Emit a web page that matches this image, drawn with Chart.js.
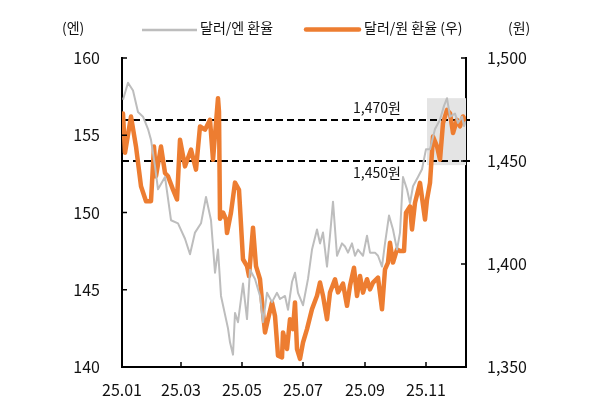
<!DOCTYPE html>
<html>
<head>
<meta charset="utf-8">
<script src="https://cdn.jsdelivr.net/npm/chart.js@4.4.1/dist/chart.umd.min.js"></script>
<style>
html,body{margin:0;padding:0;background:#fff;}
#wrap{width:591px;height:411px;position:relative;}
</style>
</head>
<body>
<div id="wrap"><canvas id="c" width="591" height="411"></canvas></div>
<script>
// ---- data ----
const yenDates = ["01.02","01.07","01.12","01.17","01.22","01.27","01.30","02.03","02.06","02.13","02.19","02.26","03.05","03.10","03.15","03.21","03.26","03.31","04.04","04.07","04.10","04.17","04.19","04.22","04.24","04.27","05.02","05.06","05.09","05.14","05.19","05.22","05.26","05.31","06.05","06.08","06.13","06.16","06.20","06.23","06.26","07.01","07.06","07.10","07.15","07.18","07.21","07.25","07.28","07.31","08.04","08.09","08.12","08.15","08.19","08.22","08.25","08.30","09.03","09.06","09.11","09.14","09.18","09.21","09.25","09.29","10.03","10.06","10.09","10.13","10.16","10.19","10.24","10.28","11.01","11.05","11.10","11.15","11.19","11.22","11.25","11.30","12.03","12.07","12.09","12.11"];
const yenValues = [157.3,158.4,157.9,156.5,156.2,155.4,154.7,153.0,151.5,152.3,149.5,149.3,148.3,147.3,148.7,149.3,151.0,149.5,146.1,147.6,144.6,142.5,141.6,140.8,143.5,142.9,145.4,143.1,146.3,145.7,144.6,142.9,144.8,144.2,144.8,144.4,144.6,143.7,145.5,146.1,144.8,144.0,145.7,147.6,148.9,148.0,148.7,146.5,148.5,150.7,147.2,148.0,147.8,147.4,148.0,147.2,147.6,147.2,148.5,147.4,147.4,147.2,146.5,148.0,149.8,148.9,147.6,148.7,152.3,151.5,150.6,151.7,152.3,152.8,154.1,154.1,155.4,156.0,156.9,157.4,156.2,156.4,155.8,156.2,155.6,155.9];

const wonDates = ["01.02","01.04","01.10","01.15","01.20","01.25","01.30","02.02","02.04","02.09","02.13","02.16","02.21","02.25","02.28","03.05","03.11","03.16","03.20","03.25","03.30","04.02","04.07","04.08","04.09","04.12","04.15","04.16","04.20","04.24","04.28","05.02","05.06","05.08","05.12","05.15","05.19","05.22","05.24","05.27","05.31","06.03","06.06","06.10","06.11","06.15","06.18","06.21","06.23","06.25","06.28","07.01","07.05","07.10","07.15","07.18","07.21","07.25","07.28","08.02","08.05","08.10","08.14","08.17","08.21","08.24","08.27","08.30","09.03","09.06","09.09","09.14","09.18","09.21","09.24","09.26","09.29","10.03","10.06","10.10","10.12","10.16","10.18","10.21","10.26","10.31","11.02","11.05","11.08","11.12","11.15","11.18","11.22","11.25","11.28","12.02","12.05","12.08","12.11"];
const wonValues = [1473,1454,1471.6,1457,1437.7,1430.5,1430.5,1457,1442.6,1457,1444.2,1442.6,1436.1,1431.3,1460.3,1447.4,1455.5,1445.8,1466.8,1465.2,1470,1450.6,1480.5,1474,1422,1425,1421.6,1415,1425,1439.5,1436,1402.3,1399,1394.2,1417.6,1399,1392.6,1376.5,1366.8,1373.2,1381.3,1374.8,1355.5,1354.7,1366.8,1358.7,1373.2,1368.4,1381.3,1358.7,1353.9,1361.9,1368.4,1378.1,1384.6,1391,1384.6,1373.2,1386.2,1392.6,1386.2,1390.5,1379.7,1389.4,1398.2,1384.5,1394.2,1386.1,1392.6,1387.7,1391,1393.4,1378,1397.4,1400.7,1410.3,1400.7,1407.1,1406.3,1406.3,1424.9,1428,1416.8,1429.7,1439.4,1421.6,1431.3,1439.4,1461.9,1457.1,1450.6,1468.4,1474.8,1473.2,1463.6,1470,1466.8,1471.6,1469.2];

const xTickDates = ["01.01","03.01","05.01","07.01","09.01","11.01"];
const xTickLabels = ["25.01","25.03","25.05","25.07","25.09","25.11"];
const xEndDate = "12.11";
const refLevels = [1470, 1450];
const refLabels = ["1,470원", "1,450원"];
const boxStartDate = "11.02", boxEndDate = "12.11", boxLow = 1448, boxHigh = 1480.5;

const seriesNames = ["달러/엔 환율", "달러/원 환율 (우)"];
const leftUnit = "(엔)", rightUnit = "(원)";

// ---- helpers ----
const cum = [0,31,59,90,120,151,181,212,243,273,304,334];
const doy = s => { const [m,d] = s.split('.').map(Number); return cum[m-1] + d - 1; };
const toPts = (dates, vals) => dates.map((d,i) => ({x: doy(d), y: vals[i]}));

const GRAY = '#BDBDBD', ORANGE = '#ED7D31';
const FONT = "'Noto Sans CJK KR', 'Noto Sans', sans-serif";

const decor = {
  id: 'decor',
  beforeDatasetsDraw(chart) {
    const {ctx, chartArea: a, scales: {x, y1}} = chart;
    ctx.save();
    // shaded box
    const bx0 = x.getPixelForValue(doy(boxStartDate)), bx1 = x.getPixelForValue(doy(boxEndDate));
    const by0 = y1.getPixelForValue(boxHigh), by1 = y1.getPixelForValue(boxLow);
    ctx.fillStyle = '#E4E4E4';
    ctx.fillRect(bx0, by0, bx1 - bx0, by1 - by0);
    // dashed reference lines
    ctx.strokeStyle = '#000'; ctx.lineWidth = 2; ctx.setLineDash([7,4]);
    refLevels.forEach(v => {
      const py = Math.round(y1.getPixelForValue(v));
      ctx.beginPath(); ctx.moveTo(a.left, py); ctx.lineTo(a.right + 6, py); ctx.stroke();
    });
    ctx.restore();
  },
  afterDraw(chart) {
    const {ctx, chartArea: a, scales: {x, y, y1}} = chart;
    ctx.save();
    // inward tick marks
    ctx.strokeStyle = '#000'; ctx.lineWidth = 1.5;
    y.ticks.forEach(t => { const p = y.getPixelForValue(t.value); ctx.beginPath(); ctx.moveTo(a.left, p); ctx.lineTo(a.left + 5, p); ctx.stroke(); });
    y1.ticks.forEach(t => { const p = y1.getPixelForValue(t.value); ctx.beginPath(); ctx.moveTo(a.right, p); ctx.lineTo(a.right - 5, p); ctx.stroke(); });
    x.ticks.forEach(t => { const p = x.getPixelForValue(t.value); ctx.beginPath(); ctx.moveTo(p, a.bottom); ctx.lineTo(p, a.bottom - 5); ctx.stroke(); });
    // reference labels
    ctx.fillStyle = '#111'; ctx.font = `14px ${FONT}`; ctx.textBaseline = 'middle'; ctx.textAlign = 'left';
    const lx = x.getPixelForValue(doy("08.20"));
    ctx.fillText(refLabels[0], lx, y1.getPixelForValue(refLevels[0]) - 12);
    ctx.fillText(refLabels[1], lx, y1.getPixelForValue(refLevels[1]) + 12);
    // legend + units
    ctx.font = `14px ${FONT}`;
    ctx.fillText(leftUnit, 62, 28);
    ctx.fillText(rightUnit, 508, 28);
    ctx.lineCap = 'butt';
    ctx.strokeStyle = GRAY; ctx.lineWidth = 2.5;
    ctx.beginPath(); ctx.moveTo(142, 30); ctx.lineTo(197, 30); ctx.stroke();
    ctx.fillText(seriesNames[0], 200, 28);
    ctx.strokeStyle = ORANGE; ctx.lineWidth = 4.5; ctx.lineCap = 'round';
    ctx.beginPath(); ctx.moveTo(306, 29.5); ctx.lineTo(359, 29.5); ctx.stroke();
    ctx.fillText(seriesNames[1], 364, 28);
    ctx.restore();
  }
};

const xTickVals = xTickDates.map(doy);

new Chart(document.getElementById('c'), {
  type: 'line',
  data: {
    datasets: [
      {label: seriesNames[0], data: toPts(yenDates, yenValues), yAxisID: 'y', borderColor: GRAY, borderWidth: 2, pointRadius: 0, tension: 0, borderJoinStyle: 'round'},
      {label: seriesNames[1], data: toPts(wonDates, wonValues), yAxisID: 'y1', borderColor: ORANGE, borderWidth: 4.5, pointRadius: 0, tension: 0, borderJoinStyle: 'round', borderCapStyle: 'round'}
    ]
  },
  options: {
    responsive: false,
    animation: false,
    devicePixelRatio: 1,
    layout: {padding: {top: 58, left: 0, right: 0, bottom: 0}},
    plugins: {legend: {display: false}, tooltip: {enabled: false}},
    scales: {
      x: {
        type: 'linear', min: 0, max: doy(xEndDate),
        grid: {display: false, drawTicks: false},
        border: {display: true, color: '#000', width: 2},
        afterBuildTicks: s => { s.ticks = xTickVals.map(v => ({value: v})); },
        ticks: {autoSkip: false, maxRotation: 0, padding: 13, color: '#111', font: {family: FONT, size: 16},
          callback: (v) => { const i = xTickVals.indexOf(v); return i >= 0 ? xTickLabels[i] : ''; }},
        afterFit: s => { s.height = 44; }
      },
      y: {
        position: 'left', min: 140, max: 160,
        grid: {display: false, drawTicks: false},
        border: {display: true, color: '#000', width: 2},
        ticks: {stepSize: 5, padding: 22, color: '#111', font: {family: FONT, size: 16}},
        afterFit: s => { s.width = 122; }
      },
      y1: {
        position: 'right', min: 1350, max: 1500,
        grid: {display: false, drawTicks: false},
        border: {display: true, color: '#000', width: 2},
        ticks: {stepSize: 50, padding: 21, color: '#111', font: {family: FONT, size: 16},
          callback: v => v.toLocaleString('en-US')},
        afterFit: s => { s.width = 125; }
      }
    }
  },
  plugins: [decor]
});
</script>
</body>
</html>
